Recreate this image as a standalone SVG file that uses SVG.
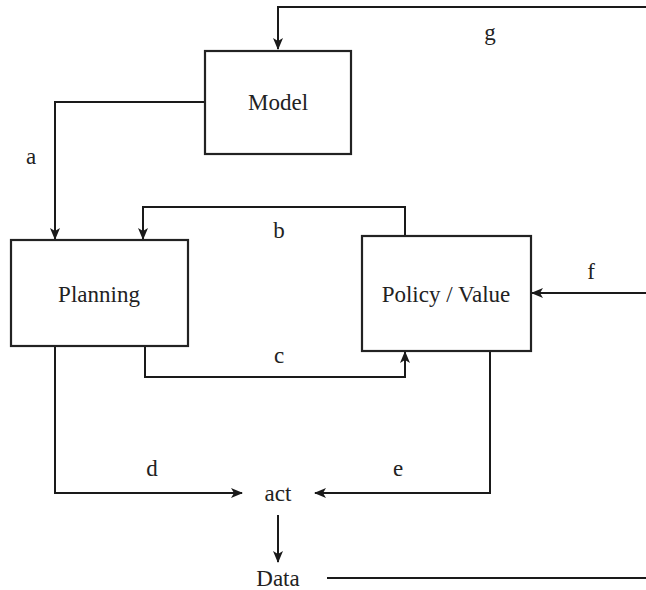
<svg xmlns="http://www.w3.org/2000/svg" width="646" height="590" viewBox="0 0 646 590">
<defs>
<marker id="arr" viewBox="0 0 12 10" refX="11" refY="5" markerWidth="12" markerHeight="10" markerUnits="userSpaceOnUse" orient="auto">
<path d="M0,0 L12,5 L0,10 L3,5 Z" fill="#1a1a1a"/>
</marker>
</defs>
<style>
.box{fill:#fff;stroke:#222;stroke-width:2.2}
.ln{fill:none;stroke:#1a1a1a;stroke-width:2}
.t{font-family:"Times New Roman","Liberation Serif","Noto Serif","DejaVu Serif",serif;font-size:23px;fill:#222;text-anchor:middle}
</style>
<rect width="646" height="590" fill="#fff"/>
<g id="connectors">
<path class="ln" d="M646,7 H278 V49" marker-end="url(#arr)"/>
<path class="ln" d="M205,102 H55 V239" marker-end="url(#arr)"/>
<path class="ln" d="M405,236 V207 H143 V239" marker-end="url(#arr)"/>
<path class="ln" d="M646,293 H532" marker-end="url(#arr)"/>
<path class="ln" d="M145,346 V377 H405 V352" marker-end="url(#arr)"/>
<path class="ln" d="M55,346 V493 H242" marker-end="url(#arr)"/>
<path class="ln" d="M490,351 V493 H315" marker-end="url(#arr)"/>
<path class="ln" d="M278,515 V562" marker-end="url(#arr)"/>
<path class="ln" d="M327,578 H646"/>
<text class="t" x="490" y="40">g</text>
<text class="t" x="31" y="164">a</text>
<text class="t" x="279" y="238">b</text>
<text class="t" x="591" y="279">f</text>
<text class="t" x="279" y="363">c</text>
<text class="t" x="152" y="476">d</text>
<text class="t" x="398" y="476">e</text>
</g>
<g id="model">
<rect class="box" x="205" y="51" width="146" height="103"/>
<text class="t" x="278" y="110">Model</text>
</g>
<g id="planning">
<rect class="box" x="11" y="240" width="177" height="106"/>
<text class="t" x="99" y="302">Planning</text>
</g>
<g id="policy">
<rect class="box" x="362" y="236" width="169" height="115"/>
<text class="t" x="446" y="302">Policy / Value</text>
</g>
<g id="act">
<text class="t" x="278" y="501">act</text>
</g>
<g id="data">
<text class="t" x="278" y="586">Data</text>
</g>
</svg>
